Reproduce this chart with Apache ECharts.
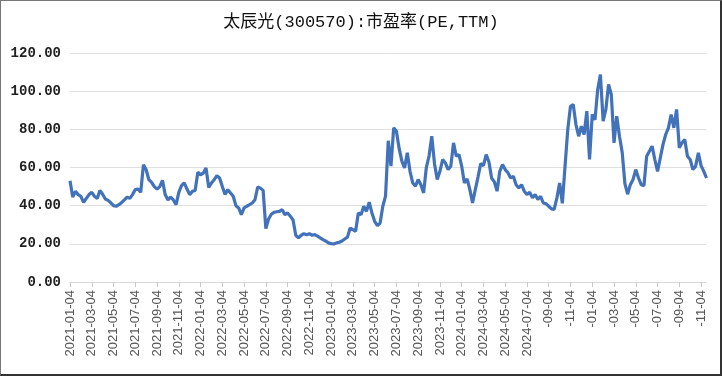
<!DOCTYPE html>
<html>
<head>
<meta charset="utf-8">
<script src="https://cdn.jsdelivr.net/npm/echarts@6/dist/echarts.min.js"></script>
<style>
  html, body { margin: 0; padding: 0; background: #fff; }
  #main { position: absolute; left: 0; top: 0; width: 722px; height: 376px; }
  /* 外框 */
  #frame {
    position: absolute; left: 0; top: 0; width: 722px; height: 376px;
    box-sizing: border-box; pointer-events: none;
    border: 1px solid #777; border-right: 2px solid #333; border-bottom: 2px solid #333;
  }
</style>
</head>
<body>
<div id="main"></div>
<div id="frame"></div>
<script>
// 标题
var titleText = '太辰光(300570):市盈率(PE,TTM)';

// x轴刻度标签，每两个月一个（图上2024-09之后的年份被遮住了）
var tickLabels = [
  '2021-01-04', '2021-03-04', '2021-05-04', '2021-07-04', '2021-09-04', '2021-11-04',
  '2022-01-04', '2022-03-04', '2022-05-04', '2022-07-04', '2022-09-04', '2022-11-04',
  '2023-01-04', '2023-03-04', '2023-05-04', '2023-07-04', '2023-09-04', '2023-11-04',
  '2024-01-04', '2024-03-04', '2024-05-04', '2024-07-04', '-09-04', '-11-04',
  '-01-04', '-03-04', '-05-04', '-07-04', '-09-04', '-11-04'
];
// 两个刻度之间的点数
var pointsPerTick = 8;

// y轴刻度
var yTicks = [0, 20, 40, 60, 80, 100, 120];

// 市盈率，从图上估读，按年分段
var pe2021 = [53, 44.5, 47.5, 45.8, 44.9, 41.7, 43.8, 45.8, 47, 44.9, 43.8, 48, 46, 43.5, 42.8, 41.5,
  40, 39.7, 40.5, 41.7, 43, 44.5, 43.8, 45.8, 48.4, 48.7, 47, 61.5, 58.8, 53.6, 52.2, 50,
  48.7, 50, 53.3, 45.8, 43, 44.5, 43, 40.5, 47, 50.5, 52, 48.7, 45.8, 47.5, 48, 57.5];
var pe2022 = [56.2, 57, 59.7, 49.5, 51.9, 53.6, 55.7, 54.5, 50.1, 45.8, 48.4, 46.6, 44.9, 40, 38.8, 35.3,
  38.8, 39.7, 40.5, 41.4, 43.1, 49.8, 49.2, 48, 28, 33, 35.5, 36.5, 36.8, 37, 37.9, 35.3,
  36.2, 34.5, 32.5, 24.5, 23.1, 24.5, 25.3, 24.8, 25.3, 24.5, 24.8, 24, 23.1, 22.2, 21.5, 20.5];
var pe2023 = [20.1, 19.9, 20.5, 20.8, 21.5, 22.5, 23.5, 28.3, 27.4, 26.6, 36.2, 35.3, 39.7, 37, 41.8, 36.2,
  31.8, 29.5, 30.9, 39.7, 45, 74, 60.7, 80.8, 79, 70, 63.3, 59.8, 67.7, 58, 51.9, 50.2,
  53.7, 51, 46.7, 60, 66, 76.4, 62, 53.7, 58, 64.2, 62.4, 58.9, 60.7, 72.9, 65.9, 66.8];
var pe2024 = [60.7, 51.9, 54, 48.4, 41.4, 48.4, 55, 62, 61, 66.8, 63, 54.5, 52.5, 47.6, 58, 61.5,
  58.9, 57.2, 54.5, 55.4, 51, 49.3, 51, 47.6, 45.8, 47, 44.1, 45.8, 43.2, 44.9, 41.4, 41,
  39.7, 38.3, 38, 44.1, 51.9, 41.2, 60.7, 80, 92.1, 93, 82.5, 76.4, 81.6, 77.3, 89.5, 64.2];
var pe2025 = [87.8, 85, 100.9, 108.7, 84.3, 90.4, 103.5, 98.3, 72.9, 86.9, 76.4, 68, 51.5, 46, 51, 53.7,
  58.9, 54.5, 51, 50.5, 65.9, 68.5, 71.2, 64.2, 58, 65, 72, 77.3, 80.8, 87.8, 80.8, 90.4,
  70.3, 73, 74.7, 65.9, 64.2, 58.9, 60.7, 67.7, 61, 58, 54.5];

var peValues = [].concat(pe2021, pe2022, pe2023, pe2024, pe2025);

// 类目轴：只有刻度位置有名字
var categories = peValues.map(function (v, i) {
  return i % pointsPerTick === 0 ? (tickLabels[i / pointsPerTick] || '') : '';
});

var config = {
  animation: false,
  backgroundColor: '#fff',
  title: {
    text: titleText,
    left: 'center',
    top: 9,
    textStyle: {
      fontFamily: 'Liberation Mono, Noto Sans CJK SC',
      fontSize: 17,
      fontWeight: 'normal',
      color: '#111'
    }
  },
  grid: {
    left: 70,
    right: 15.5,
    top: 53,
    bottom: 94
  },
  xAxis: {
    type: 'category',
    boundaryGap: false,
    data: categories,
    axisLine: { lineStyle: { color: '#D9D9D9' } },
    axisTick: {
      interval: pointsPerTick - 1,
      length: 5,
      lineStyle: { color: '#C8C8C8' }
    },
    axisLabel: {
      interval: pointsPerTick - 1,
      rotate: 90,
      margin: 8,
      fontFamily: 'Liberation Sans',
      fontSize: 13,
      color: '#555'
    },
    splitLine: { show: false }
  },
  yAxis: {
    type: 'value',
    min: yTicks[0],
    max: yTicks[yTicks.length - 1],
    interval: yTicks[1] - yTicks[0],
    axisLine: { show: false },
    axisTick: { show: false },
    axisLabel: {
      margin: 9,
      fontFamily: 'Liberation Mono',
      fontSize: 14,
      fontWeight: 'bold',
      color: '#222',
      formatter: function (v) { return v.toFixed(2); }
    },
    splitLine: { lineStyle: { color: '#E0E0E0' } }
  },
  series: [
    {
      name: '市盈率',
      type: 'line',
      data: peValues,
      showSymbol: false,
      lineStyle: { color: '#4272BA', width: 3.2 },
      itemStyle: { color: '#4272BA' }
    }
  ]
};

var myChart = echarts.init(document.getElementById('main'));
myChart.setOption(config);
</script>
</body>
</html>
